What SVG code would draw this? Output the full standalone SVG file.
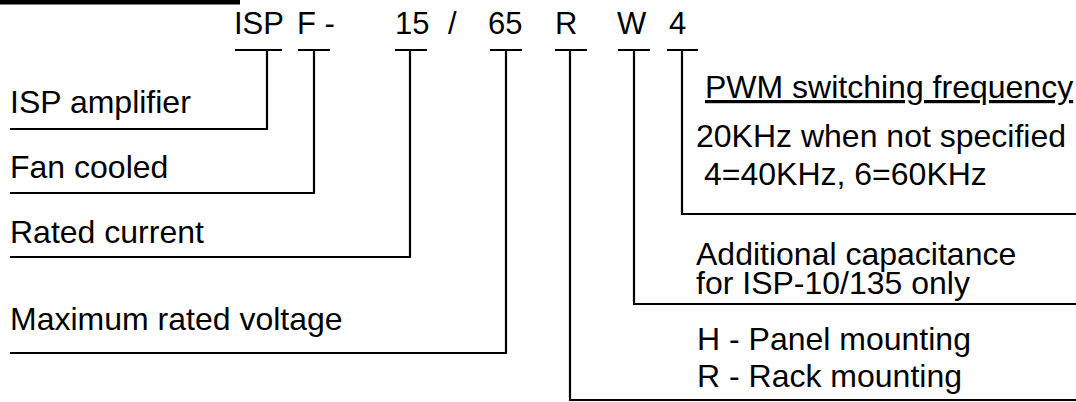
<svg xmlns="http://www.w3.org/2000/svg" width="1076" height="402" viewBox="0 0 1076 402">
<style>
text{font-family:"Liberation Sans",Arial,sans-serif;font-size:32px;fill:#000}
#code text{font-size:31px}
.ln{fill:none;stroke:#000;stroke-width:2.2}
</style>
<rect x="0" y="0" width="1076" height="402" fill="#fff"/>
<rect x="0" y="0" width="240" height="4.5" fill="#000"/>
<g id="code">
<text x="234" y="34">ISP</text>
<text x="297" y="34">F -</text>
<text x="395" y="34">15</text>
<text x="448" y="34">/</text>
<text x="488" y="34">65</text>
<text x="555" y="34">R</text>
<text x="617" y="34">W</text>
<text x="669" y="34">4</text>
</g>
<g id="connectors" class="ln">
<path d="M235 50H282M267 50V129H10"/>
<path d="M298 50H330M314 50V193H10"/>
<path d="M395 50H427M410 50V257H10"/>
<path d="M490 50H522M506 50V353H10"/>
<path d="M555 50H587M570 50V400H1076"/>
<path d="M618 50H650M634 50V304H1076"/>
<path d="M667 50H698M682 50V214H1076"/>
</g>
<g id="isp-amplifier"><text x="10" y="113">ISP amplifier</text></g>
<g id="fan-cooled"><text x="10" y="178">Fan cooled</text></g>
<g id="rated-current"><text x="10" y="243">Rated current</text></g>
<g id="max-voltage"><text x="10" y="330">Maximum rated voltage</text></g>
<g id="pwm">
<text x="705" y="98" text-decoration="underline">PWM switching frequency</text>
<text x="696" y="147">20KHz when not specified</text>
<text x="704" y="185">4=40KHz, 6=60KHz</text>
</g>
<g id="capacitance">
<text x="696" y="265">Additional capacitance</text>
<text x="696" y="294">for ISP-10/135 only</text>
</g>
<g id="mounting">
<text x="697" y="350">H - Panel mounting</text>
<text x="697" y="387">R - Rack mounting</text>
</g>
</svg>
